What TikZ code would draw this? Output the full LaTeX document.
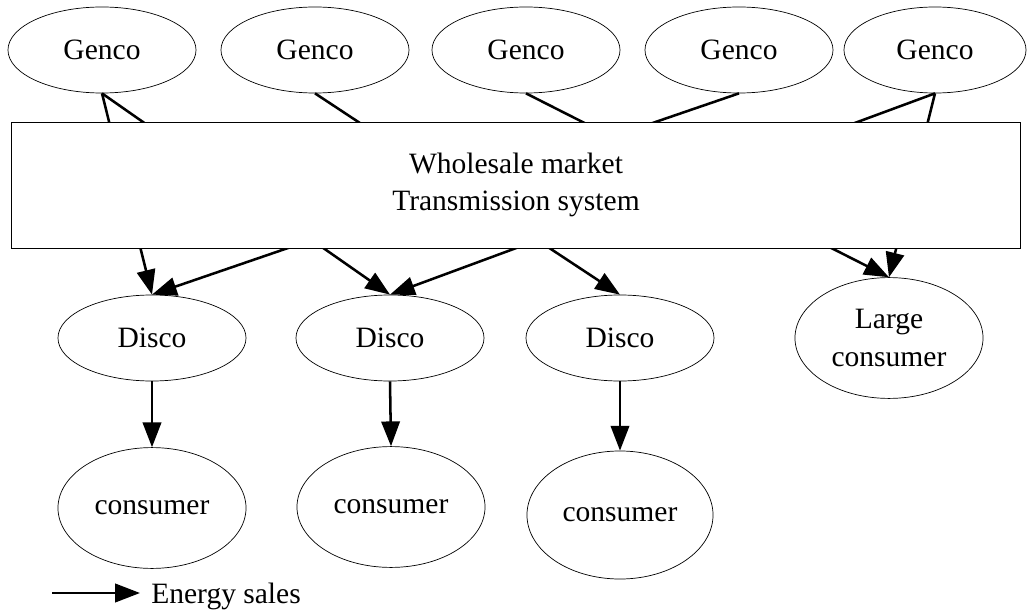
\documentclass[tikz,border=0pt]{standalone}
\usepackage{fontspec}
\setmainfont{Liberation Serif}
\usetikzlibrary{shapes.geometric, arrows.meta}

\begin{document}
\begin{tikzpicture}[x = .025cm, y = -.025cm,
    agent/.style = {ellipse, draw, line width = .5pt, inner sep = 0pt, minimum width = 4.7cm, minimum height = 2.15cm, font = \fontsize{21}{27}\selectfont, align = center},
    sale/.style = {-{Triangle[length = .62cm, width = .46cm]}, line width = 1.8pt}]
    \useasboundingbox (0,0) rectangle (1028,611);
    \node[agent] (genco1) at (102,50) {Genco};
    \node[agent] (genco2) at (315,50) {Genco};
    \node[agent] (genco3) at (526,50) {Genco};
    \node[agent] (genco4) at (739,50) {Genco};
    \node[agent, minimum width = 4.55cm] (genco5) at (935,50) {Genco};
    \node[agent] (disco1) at (152,338) {Disco};
    \node[agent] (disco2) at (390,338) {Disco};
    \node[agent] (disco3) at (620,338) {Disco};
    \node[agent, minimum height = 3.02cm] (large) at (889,338) {Large\\consumer};
    \node[agent, minimum height = 3.02cm] (cons1) at (152,508) {consumer};
    \node[agent, minimum height = 3.02cm] (cons2) at (391,507) {consumer};
    \node[agent, minimum width = 4.65cm, minimum height = 3.2cm] (cons3) at (620,515) {consumer};
    \draw[sale] (genco1.south) -- (disco1.north);
    \draw[sale] (genco1.south) -- (disco2.north);
    \draw[sale] (genco2.south) -- (disco3.north);
    \draw[sale] (genco3.south) -- (large.north);
    \draw[sale] (genco4.south) -- (disco1.north);
    \draw[sale] (genco5.south) -- (disco2.north);
    \draw[sale] (genco5.south) -- (large.north);
    \draw[sale] (disco1.south) -- (cons1.north);
    \draw[sale] (disco2.south) -- (cons2.north);
    \draw[sale] (disco3.south) -- (cons3.north);
    \node[draw, fill = white, line width = .6pt, inner sep = 0pt, minimum width = 25.2cm, minimum height = 3.15cm, font = \fontsize{21}{26}\selectfont, align = center] (market) at (516,185) {Wholesale market\\Transmission system};
    % legend
    \coordinate (legA) at (52,593);
    \coordinate (legB) at (140,593);
    \draw[sale] (legA) -- (legB);
    \node[anchor = west, inner sep = 0pt, font = \fontsize{21}{26}\selectfont] (legend) at (151,596) {Energy sales};
\end{tikzpicture}
\end{document}
